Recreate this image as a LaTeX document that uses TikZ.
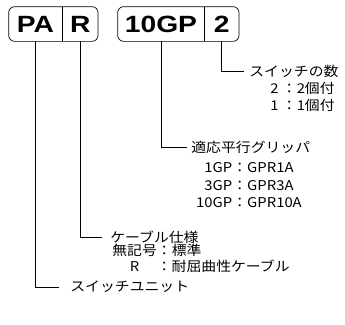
\documentclass[tikz,border=0pt]{standalone}
\usepackage{fontspec}
\setmainfont{Noto Sans CJK JP}[FakeStretch=1.1]
\newfontfamily\boxfont{Liberation Sans}[FakeStretch=1.2]
\usetikzlibrary{positioning}

\begin{document}
\begin{tikzpicture}[x=1pt,y=-1pt,line width=0.7pt,
        cell/.style={minimum height=34pt, inner sep=0pt, font=\boxfont\bfseries\fontsize{23.5}{24}\selectfont},
        lbl/.style={anchor=west, inner xsep=5pt, inner ysep=0pt, font=\fontsize{13.5}{17}\selectfont},
        lst/.style={inner sep=0pt, font=\fontsize{13.5}{17}\selectfont}]
        \useasboundingbox (0,0) rectangle (345,324);
        \node[cell, minimum width=53pt] (pa) at (35.5,24) {PA};
        \node[cell, minimum width=35pt, right=0pt of pa] (r) {R};
        \node[cell, minimum width=86pt] (gp) at (161,24) {10GP};
        \node[cell, minimum width=34pt, right=0pt of gp] (num) {2};
        \draw[rounded corners=6pt] (pa.north west) rectangle (r.south east);
        \draw[rounded corners=6pt] (gp.north west) rectangle (num.south east);
        \draw (pa.north east) -- (pa.south east);
        \draw (gp.north east) -- (gp.south east);
        \node[lbl] (count) at (244,71) {スイッチの数};
        \node[lst, anchor=west, align=left] (countlist) at (270,96.5) {2 ：2個付\\1 ：1個付};
        \node[lbl, inner xsep=4pt] (grip) at (187,147) {適応平行グリッパ};
        \node[lst, align=center, font=\fontsize{13.5}{17.5}\selectfont] (griplist) at (249,185.5) {1GP：GPR1A\\3GP：GPR3A\\10GP：GPR10A};
        \node[lbl, inner xsep=8pt] (cable) at (102,237) {ケーブル仕様};
        \node[lst, anchor=west, font=\fontsize{13.5}{16}\selectfont] (cablelist) at (112,260.5) {\begin{tabular}{@{}c@{}l@{}}無記号&：標準\\R&：耐屈曲性ケーブル\end{tabular}};
        \node[lbl, inner xsep=11pt] (unit) at (59,287) {スイッチユニット};
        \draw (num.south) |- (count.west);
        \draw (gp.south) |- (grip.west);
        \draw (r.south) |- (cable.west);
        \draw (pa.south) |- (unit.west);
    \end{tikzpicture}
\end{document}
